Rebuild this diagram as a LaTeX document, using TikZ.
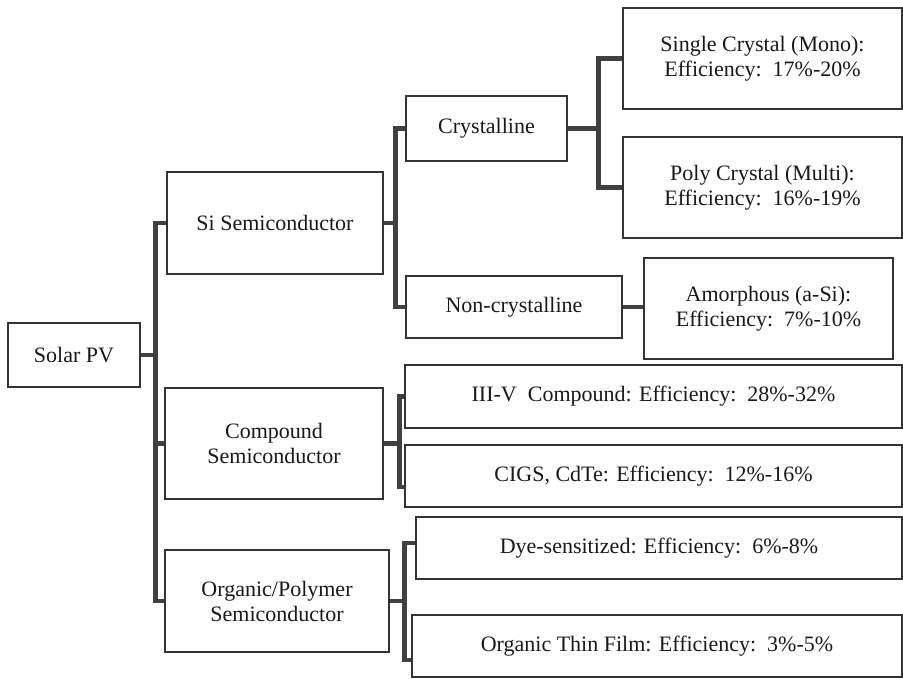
\documentclass[tikz,border=0pt]{standalone}
\usepackage{fontspec}
\setmainfont{Liberation Serif}

\tikzset{
	box/.style={draw=black!80, line width=1.4pt, inner sep=2pt, align=center,
		font=\fontsize{22}{25}\selectfont, text=black!90},
	link/.style={draw=black!75, line width=4.5pt, line cap=butt}
}

\begin{document}
\begin{tikzpicture}[x=1pt, y=-1pt]
\useasboundingbox[fill=white] (0,0) rectangle (903,679);
% tree, root to leaves
\node[box, minimum width=132pt, minimum height=64pt] (solar) at (74,355) {Solar PV};
\node[box, minimum width=216pt, minimum height=102pt] (si) at (275,223) {Si Semiconductor};
\node[box, minimum width=218pt, minimum height=111pt] (comp) at (274,443.5)
	{Compound\\Semiconductor};
\node[box, minimum width=224pt, minimum height=102pt] (org) at (277,601)
	{Organic/Polymer\\Semiconductor};
\node[box, minimum width=161pt, minimum height=65pt] (cryst) at (486.5,128.5) {Crystalline};
\node[box, minimum width=216pt, minimum height=62pt] (noncryst) at (514,307) {Non-crystalline};
\node[box, minimum width=279pt, minimum height=101pt] (mono) at (762.5,58.5)
	{Single Crystal (Mono):\\Efficiency:~~17\%-20\%};
\node[box, minimum width=279pt, minimum height=101pt] (poly) at (762.5,187.5)
	{Poly Crystal (Multi):\\Efficiency:~~16\%-19\%};
\node[box, minimum width=249pt, minimum height=101pt] (amor) at (768.5,308.5)
	{Amorphous (a-Si):\\Efficiency:~~7\%-10\%};
\node[box, minimum width=497pt, minimum height=63pt] (iiiv) at (653.5,396.5)
	{III-V~~Compound: Efficiency:~~28\%-32\%};
\node[box, minimum width=497pt, minimum height=62pt] (cigs) at (653.5,476)
	{CIGS, CdTe: Efficiency:~~12\%-16\%};
\node[box, minimum width=486pt, minimum height=62pt] (dye) at (659,548)
	{Dye-sensitized: Efficiency:~~6\%-8\%};
\node[box, minimum width=490pt, minimum height=62pt] (otf) at (657,646)
	{Organic Thin Film: Efficiency:~~3\%-5\%};
% connectors
\foreach \c in {si,comp,org} \draw[link] (solar.east) -- ++(15,0) |- (\c.west);
\foreach \c in {cryst,noncryst} \draw[link] (si.east) -- ++(12,0) |- (\c.west);
\foreach \c in {mono,poly} \draw[link] (cryst.east) -- ++(31,0) |- (\c.west);
\draw[link] (noncryst.east) -- (noncryst.east -| amor.west);
\draw[link] (comp.east) -- ++(16,0) |- (iiiv.west);
\draw[link] (comp.east) -- ++(16,0) |- ([yshift=-11pt]cigs.west);
\draw[link] (org.east) -- ++(15,0) |- ([yshift=5pt]dye.west);
\draw[link] (org.east) -- ++(15,0) |- ([yshift=-14pt]otf.west);
\end{tikzpicture}
\end{document}
